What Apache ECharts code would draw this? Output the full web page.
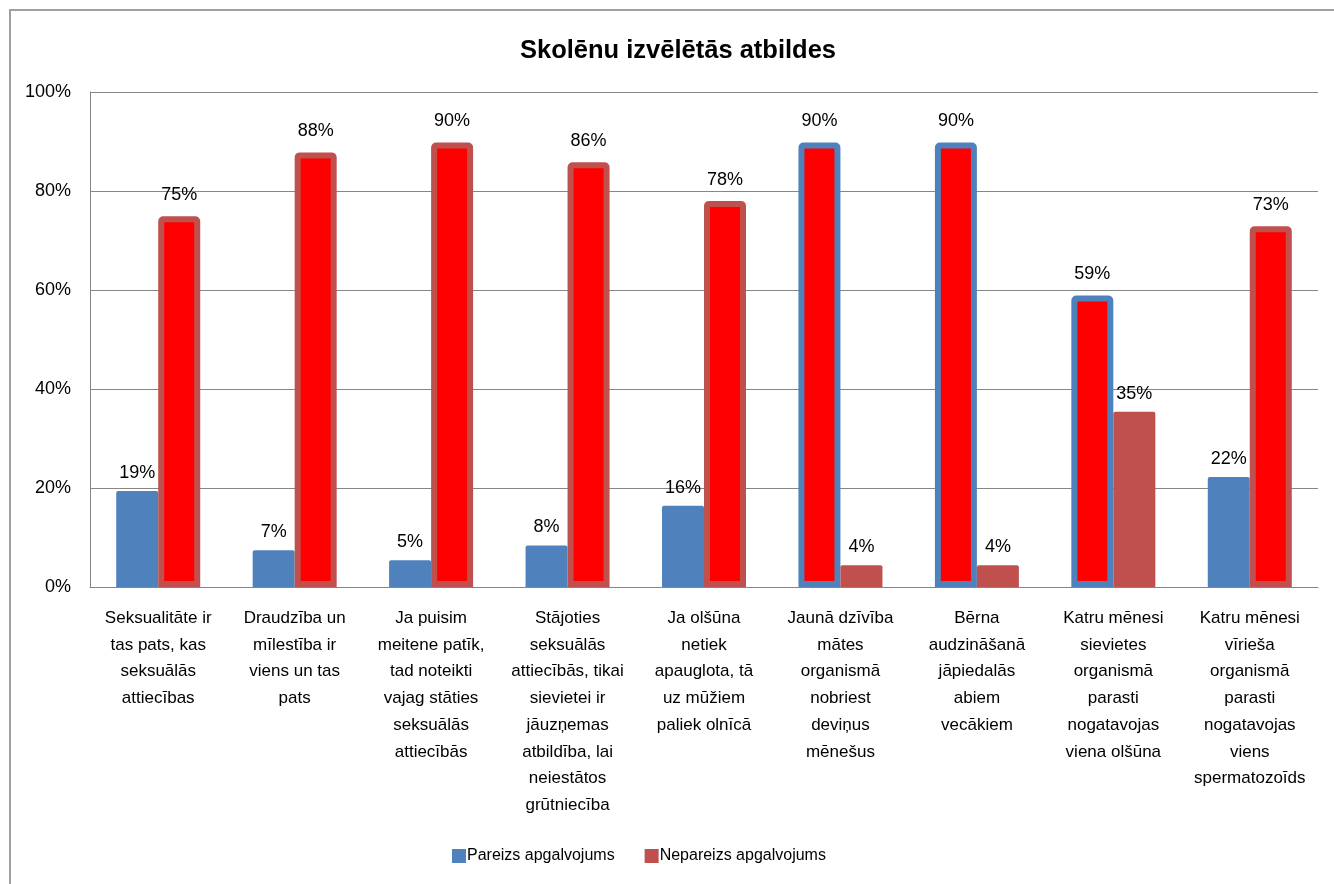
<!DOCTYPE html>
<html>
<head>
<meta charset="utf-8">
<script src="https://cdn.jsdelivr.net/npm/echarts@6/dist/echarts.min.js"></script>
<style>
html,body{margin:0;padding:0;background:#fff;}
#chart{width:1334px;height:884px;}
</style>
</head>
<body>
<div id="chart"></div>
<script>
const title = 'Skolēnu izvēlētās atbildes';
const categories = [
  'Seksualitāte ir\ntas pats, kas\nseksuālās\nattiecības',
  'Draudzība un\nmīlestība ir\nviens un tas\npats',
  'Ja puisim\nmeitene patīk,\ntad noteikti\nvajag stāties\nseksuālās\nattiecībās',
  'Stājoties\nseksuālās\nattiecībās, tikai\nsievietei ir\njāuzņemas\natbildība, lai\nneiestātos\ngrūtniecība',
  'Ja olšūna\nnetiek\napauglota, tā\nuz mūžiem\npaliek olnīcā',
  'Jaunā dzīvība\nmātes\norganismā\nnobriest\ndeviņus\nmēnešus',
  'Bērna\naudzināšanā\njāpiedalās\nabiem\nvecākiem',
  'Katru mēnesi\nsievietes\norganismā\nparasti\nnogatavojas\nviena olšūna',
  'Katru mēnesi\nvīrieša\norganismā\nparasti\nnogatavojas\nviens\nspermatozoīds'
];
const seriesNames = ['Pareizs apgalvojums', 'Nepareizs apgalvojums'];
const correct   = [19.4, 7.4, 5.4, 8.4, 16.4, 89.8, 89.8, 58.9, 22.2];
const incorrect = [74.9, 87.8, 89.8, 85.8, 78.0, 4.4, 4.4, 35.4, 72.9];

const BLUE = '#4F81BD', RED = '#C0504D', HIGHLIGHT = '#FF0000';

function build(values, other, color) {
  return values.map(function (v, i) {
    const chosen = v > other[i];
    if (chosen) {
      return {
        value: v,
        itemStyle: { color: HIGHLIGHT, borderColor: color, borderWidth: 6, borderRadius: [2, 2, 0, 0] },
        label: { distance: 12 }
      };
    }
    return { value: v, itemStyle: { color: color, borderRadius: [2, 2, 0, 0] }, label: { distance: 9 } };
  });
}

const chart = echarts.init(document.getElementById('chart'), null, { renderer: 'canvas' });
const baseFont = "'Liberation Sans', Arial, sans-serif";
chart.setOption({
  backgroundColor: '#fff',
  animation: false,
  textStyle: { fontFamily: baseFont, color: '#000' },
  title: {
    text: title,
    left: 515,
    top: 33,
    textStyle: { fontFamily: baseFont, fontSize: 25.5, fontWeight: 'bold', color: '#000' }
  },
  graphic: [{
    type: 'rect',
    shape: { x: 10, y: 10, width: 1400, height: 900 },
    style: { fill: 'none', stroke: '#a0a0a0', lineWidth: 2 },
    silent: true
  }],
  legend: {
    left: 452,
    top: 848,
    padding: 0,
    itemWidth: 14,
    itemHeight: 14,
    itemGap: 30,
    icon: 'rect',
    textStyle: { fontFamily: baseFont, fontSize: 16, color: '#000', padding: [0, 0, 0, -4] },
    data: seriesNames
  },
  grid: { left: 90, top: 92, right: 16, bottom: 297 },
  xAxis: {
    type: 'category',
    data: categories,
    axisLine: { lineStyle: { color: '#868686', width: 1 } },
    axisTick: { show: false },
    axisLabel: {
      interval: 0,
      margin: 18,
      color: '#000',
      fontFamily: baseFont,
      fontSize: 17,
      lineHeight: 26.7,
      align: 'center'
    }
  },
  yAxis: {
    type: 'value',
    min: 0,
    max: 100,
    interval: 20,
    axisLine: { show: true, lineStyle: { color: '#868686', width: 1 } },
    axisTick: { show: false },
    splitLine: { lineStyle: { color: '#868686', width: 1 } },
    axisLabel: { formatter: '{value}%', margin: 19, color: '#000', fontFamily: baseFont, fontSize: 18 }
  },
  series: [
    {
      name: seriesNames[0],
      type: 'bar',
      barWidth: 42,
      barGap: '0%',
      itemStyle: { color: BLUE },
      label: {
        show: true, position: 'top', color: '#000', fontFamily: baseFont, fontSize: 18,
        formatter: function (p) { return Math.round(p.value) + '%'; }
      },
      data: build(correct, incorrect, BLUE)
    },
    {
      name: seriesNames[1],
      type: 'bar',
      barWidth: 42,
      barGap: '0%',
      itemStyle: { color: RED },
      label: {
        show: true, position: 'top', color: '#000', fontFamily: baseFont, fontSize: 18,
        formatter: function (p) { return Math.round(p.value) + '%'; }
      },
      data: build(incorrect, correct, RED)
    }
  ]
});
</script>
</body>
</html>
